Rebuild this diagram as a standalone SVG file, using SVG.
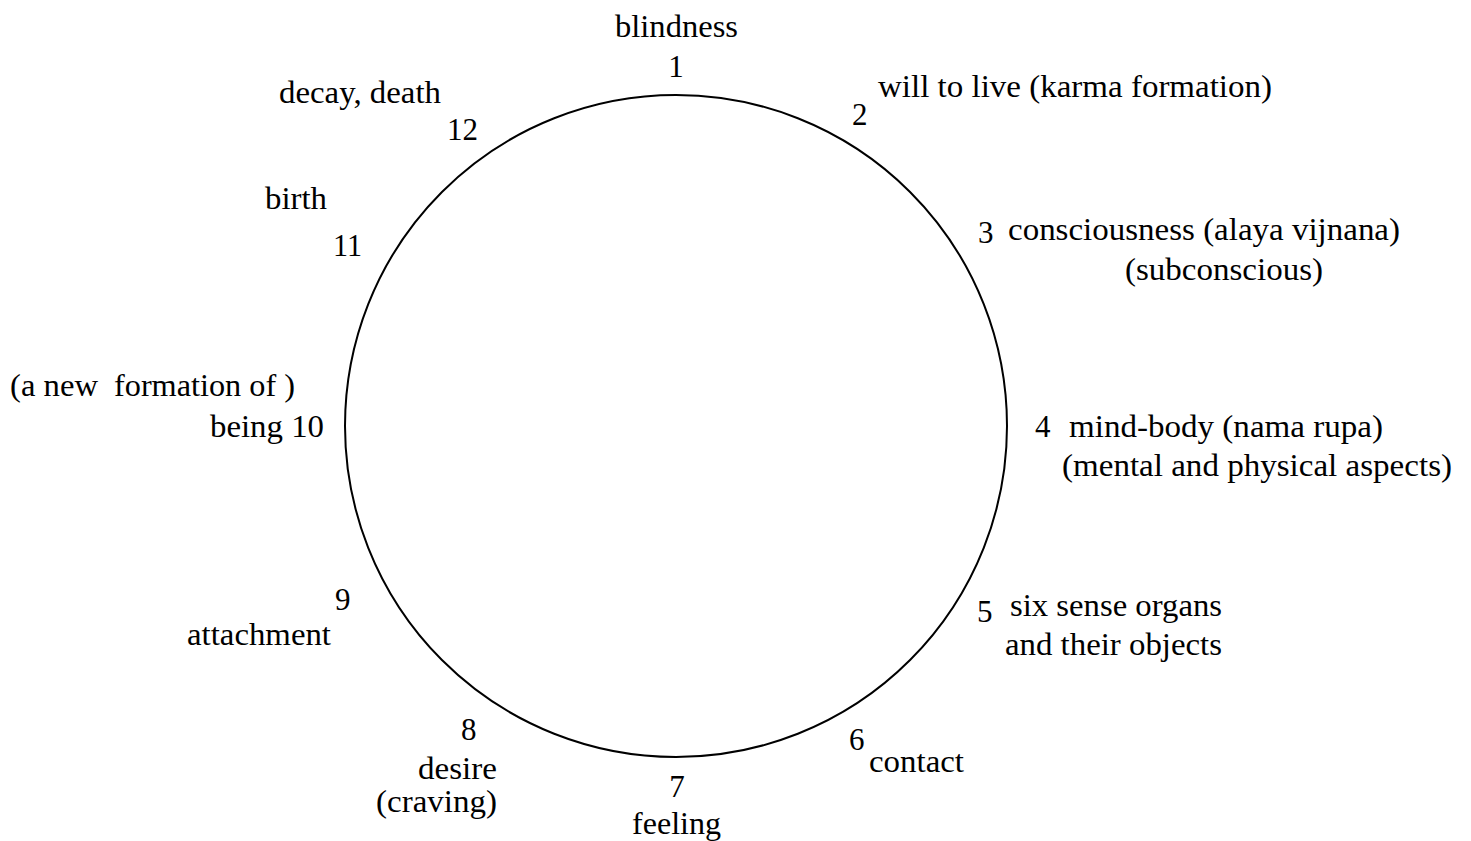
<svg xmlns="http://www.w3.org/2000/svg" width="1471" height="841" viewBox="0 0 1471 841">
<style>
text{font-family:'Liberation Serif',Tinos,'Times New Roman',Times,'Nimbus Roman',serif;font-size:31px;fill:#000}
.c{fill:none;stroke:#000;stroke-width:2}
</style>
<rect width="1471" height="841" fill="#fff"/>
<g id="connectors"></g>
<g id="wheel"><circle class="c" cx="676" cy="426" r="331"/></g>
<g id="n1"><text x="615" y="37" textLength="123" lengthAdjust="spacingAndGlyphs">blindness</text><text x="676" y="77" text-anchor="middle">1</text></g>
<g id="n2"><text x="852" y="125">2</text><text x="878" y="97" textLength="394" lengthAdjust="spacingAndGlyphs">will to live (karma formation)</text></g>
<g id="n3"><text x="978" y="243">3</text><text x="1008" y="240" textLength="392" lengthAdjust="spacingAndGlyphs">consciousness (alaya vijnana)</text><text x="1125" y="280" textLength="198" lengthAdjust="spacingAndGlyphs">(subconscious)</text></g>
<g id="n4"><text x="1035" y="437">4</text><text x="1069" y="437" textLength="314" lengthAdjust="spacingAndGlyphs">mind-body (nama rupa)</text><text x="1062" y="476" textLength="390" lengthAdjust="spacingAndGlyphs">(mental and physical aspects)</text></g>
<g id="n5"><text x="977" y="622">5</text><text x="1010" y="616" textLength="212" lengthAdjust="spacingAndGlyphs">six sense organs</text><text x="1005" y="655" textLength="217" lengthAdjust="spacingAndGlyphs">and their objects</text></g>
<g id="n6"><text x="849" y="750">6</text><text x="869" y="772" textLength="95" lengthAdjust="spacingAndGlyphs">contact</text></g>
<g id="n7"><text x="677" y="797" text-anchor="middle">7</text><text x="632" y="834" textLength="89" lengthAdjust="spacingAndGlyphs">feeling</text></g>
<g id="n8"><text x="461" y="740">8</text><text x="418" y="779" textLength="79" lengthAdjust="spacingAndGlyphs">desire</text><text x="376" y="812" textLength="121" lengthAdjust="spacingAndGlyphs">(craving)</text></g>
<g id="n9"><text x="335" y="610">9</text><text x="187" y="645" textLength="144" lengthAdjust="spacingAndGlyphs">attachment</text></g>
<g id="n10"><text x="10" y="396" textLength="88" lengthAdjust="spacingAndGlyphs">(a new</text><text x="114" y="396" textLength="181" lengthAdjust="spacingAndGlyphs">formation of )</text><text x="210" y="437" textLength="114" lengthAdjust="spacingAndGlyphs">being 10</text></g>
<g id="n11"><text x="265" y="209" textLength="62" lengthAdjust="spacingAndGlyphs">birth</text><text x="333" y="256" textLength="29" lengthAdjust="spacingAndGlyphs">11</text></g>
<g id="n12"><text x="279" y="103" textLength="162" lengthAdjust="spacingAndGlyphs">decay, death</text><text x="447" y="140" textLength="31" lengthAdjust="spacingAndGlyphs">12</text></g>
</svg>
